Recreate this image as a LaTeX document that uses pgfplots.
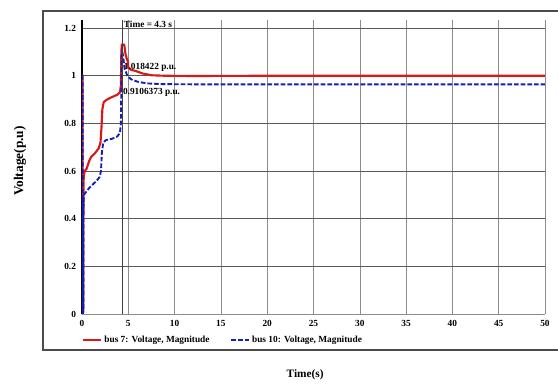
\documentclass[border=0pt]{standalone}
\usepackage{fontspec}
\setmainfont{Liberation Serif}
\usepackage{pgfplots}
\pgfplotsset{compat=1.18}
\definecolor{myred}{RGB}{215,25,25}
\definecolor{myblue}{RGB}{20,30,175}
\begin{document}
\begin{tikzpicture}
\path[use as bounding box] (0pt,0pt) rectangle (418.5pt,-287.25pt);
\draw[black!70, line width=1.5pt] (430pt,-8.25pt) -- (32.25pt,-8.25pt) -- (32.25pt,-262.5pt) -- (430pt,-262.5pt);
\begin{axis}[
  at={(61.5pt,-235.5pt)}, anchor=south west,
  scale only axis, width=347.25pt, height=220.5pt,
  xmin=0, xmax=50, ymin=0, ymax=1.234,
  xtick={0,5,...,50}, ytick={0,0.2,0.4,0.6,0.8,1,1.2},
  grid=major, major grid style={black!45, line width=0.4pt},
  every axis y grid/.append style={black!65},
  axis lines=left, axis line style={-, black!45, line width=0.5pt},
  y axis line style={black, line width=0.8pt},
  major tick length=0pt,
  /pgf/number format/assume math mode=true,
  tick label style={font=\fontsize{7}{8}\selectfont\bfseries},
  xticklabel style={yshift=-1pt},
  yticklabel style={xshift=-1pt},
  xlabel={Time(s)}, ylabel={Voltage(p.u)},
  xlabel style={at={(axis description cs:0.482,-0.2075)}, anchor=center, font=\fontsize{8.5}{10}\selectfont\bfseries},
  ylabel style={at={(axis description cs:-0.134,0.52)}, anchor=center, rotate=0, font=\fontsize{10}{12}\selectfont\bfseries},
  legend style={at={(axis description cs:0,-0.088)}, anchor=west, draw=none, fill=none, inner sep=0pt,
    font=\fontsize{7}{8}\selectfont\bfseries, legend columns=2,
    nodes={inner sep=1.5pt},
    /tikz/every even column/.append style={column sep=14pt}},
  legend cell align=left,
  legend image code/.code={\draw[#1] (-1.5pt,0pt) -- (12pt,0pt);},
]
\addplot[myred, line width=1.6pt] coordinates {
(0,1.0)(0.06,1.0)(0.08,0.02)(0.14,0.02)(0.16,0.55)(0.2,0.58)(0.3,0.6)(0.5,0.61)(0.8,0.645)(1.0,0.66)(1.4,0.675)(1.8,0.695)(2.0,0.72)(2.1,0.78)(2.2,0.86)(2.35,0.89)(2.7,0.9)(3.2,0.91)(3.8,0.92)(4.1,0.93)(4.2,0.96)(4.25,1.1)(4.3,1.13)(4.55,1.13)(4.6,1.12)(4.7,1.09)(4.85,1.07)(4.95,1.06)(5.0,1.035)(5.3,1.025)(5.8,1.02)(6.5,1.01)(7.5,1.002)(9,1.0)(12,0.999)(20,1.0)(30,1.0)(50,1.0)
};
\addlegendentry{bus 7: Voltage, Magnitude}
\addplot[myblue, line width=1.4pt, dash pattern=on 3.5pt off 1.5pt] coordinates {
(0,1.0)(0.06,1.0)(0.1,0.01)(0.16,0.01)(0.17,0.49)(0.2,0.5)(0.4,0.51)(0.8,0.53)(1.2,0.545)(1.6,0.56)(1.9,0.575)(2.05,0.6)(2.15,0.68)(2.3,0.72)(2.6,0.73)(3.2,0.735)(3.8,0.745)(4.1,0.76)(4.2,0.8)(4.25,0.95)(4.3,1.08)(4.35,1.10)(4.45,1.08)(4.6,1.03)(4.9,1.0)(5.3,0.985)(6.0,0.975)(7.0,0.968)(8.5,0.965)(12,0.964)(50,0.964)
};
\addlegendentry{bus 10: Voltage, Magnitude}
\addplot[myblue, line width=1.6pt, forget plot] coordinates {(0.13,0.0)(0.13,0.49)};
\addplot[black!75, line width=0.5pt, forget plot] coordinates {(4.35,0)(4.35,1.234)};
\node[anchor=west, inner sep=0pt, font=\fontsize{7}{8}\selectfont\bfseries] at (axis cs:4.5,1.217) {Time = 4.3 s};
\node[anchor=west, inner sep=0pt, font=\fontsize{7}{8}\selectfont\bfseries] at (axis cs:4.5,1.037) {1.018422 p.u.};
\node[anchor=west, inner sep=0pt, font=\fontsize{7}{8}\selectfont\bfseries] at (axis cs:4.4,0.932) {0.9106373 p.u.};
\end{axis}
\end{tikzpicture}
\end{document}
